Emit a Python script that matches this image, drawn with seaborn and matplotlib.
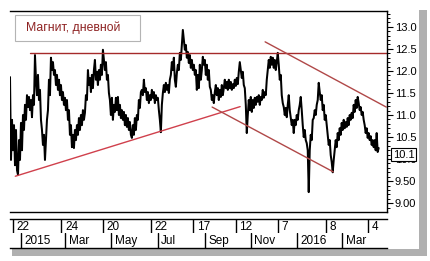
import numpy as np
import pandas as pd
import matplotlib
matplotlib.use("Agg")
import matplotlib.pyplot as plt
from matplotlib.patches import Rectangle
from matplotlib.ticker import FixedLocator, MultipleLocator, NullLocator
import seaborn as sns

# ---------------- data ----------------
title = "Магнит, дневной"
start_date, end_date = "2014-12-18", "2016-04-18"
price = [
    11.86, 9.98, 10.89, 10.20, 10.77, 9.86, 10.66, 9.75, 9.64, 10.43,
    9.98, 10.82, 10.20, 11.00, 10.66, 11.23, 10.89, 11.45, 11.18, 11.41,
    11.11, 11.34, 10.95, 11.45, 11.23, 12.36, 11.80, 11.45, 11.91, 11.34,
    11.57, 10.89, 10.66, 10.32, 10.55, 9.98, 10.43, 10.89, 11.11, 11.80,
    11.45, 12.30, 12.02, 12.20, 11.91, 12.02, 11.68, 11.91, 11.57, 11.80,
    11.45, 11.68, 11.34, 11.52, 11.23, 11.39, 11.11, 11.34, 10.89, 11.11,
    10.55, 10.77, 10.27, 10.55, 10.25, 10.66, 10.43, 10.77, 10.55, 10.93,
    10.66, 11.00, 10.77, 11.11, 10.89, 11.05, 11.45, 11.34, 12.02, 11.68,
    11.84, 11.52, 11.91, 11.61, 12.02, 12.25, 11.80, 11.98, 11.68, 12.02,
    11.80, 12.14, 11.91, 12.48, 12.25, 12.02, 12.20, 11.80, 11.91, 11.50,
    11.34, 11.00, 11.39, 10.89, 11.23, 11.07, 11.39, 11.11, 11.41, 11.00,
    11.23, 10.93, 11.11, 10.89, 11.07, 10.77, 11.00, 10.73, 10.93, 10.66,
    10.84, 10.55, 10.48, 10.77, 10.55, 10.93, 10.66, 11.00, 10.89, 11.34,
    11.16, 11.52, 11.57, 11.45, 11.80, 11.52, 11.61, 11.34, 11.52, 11.27,
    11.45, 11.34, 11.57, 11.39, 11.52, 11.27, 11.45, 11.34, 11.39, 11.11,
    10.89, 10.61, 11.23, 11.50, 11.68, 11.52, 11.73, 11.57, 11.68, 11.50,
    11.80, 11.91, 12.20, 12.02, 12.30, 11.80, 11.64, 11.95, 12.14, 12.02,
    12.41, 12.25, 12.59, 12.93, 12.70, 12.48, 12.59, 12.30, 12.43, 12.18,
    12.36, 12.07, 12.25, 12.02, 12.14, 11.91, 12.02, 11.57, 11.91, 11.61,
    12.14, 11.80, 12.02, 12.32, 12.14, 12.25, 11.91, 12.14, 11.80, 12.02,
    11.64, 11.57, 11.34, 11.45, 11.27, 11.52, 11.68, 11.45, 11.61, 11.34,
    11.57, 11.41, 11.68, 11.45, 11.61, 11.80, 11.61, 11.75, 11.57, 11.80,
    11.61, 11.75, 11.57, 11.70, 11.61, 11.80, 11.66, 11.84, 11.70, 11.98,
    12.20, 12.02, 11.84, 11.98, 11.68, 11.61, 11.23, 10.59, 11.00, 11.34,
    11.11, 11.41, 11.07, 11.34, 11.16, 11.39, 11.23, 11.41, 11.30, 11.45,
    11.23, 11.41, 11.34, 11.57, 11.39, 11.52, 11.45, 11.80, 12.02, 12.25,
    12.07, 12.32, 12.14, 12.30, 12.07, 12.25, 12.02, 12.20, 12.41, 12.14,
    11.80, 11.91, 11.45, 11.27, 11.18, 11.00, 11.16, 10.95, 11.23, 11.45,
    11.11, 10.93, 10.77, 10.89, 10.59, 10.89, 10.77, 11.00, 10.89, 11.11,
    11.23, 11.41, 11.11, 10.77, 10.50, 10.66, 10.43, 10.36, 10.20, 9.25,
    10.20, 10.55, 10.43, 10.89, 10.93, 11.11, 11.00, 11.23, 11.34, 11.73,
    11.52, 11.34, 11.45, 11.11, 11.23, 10.89, 11.00, 10.77, 10.55, 10.32,
    10.43, 10.09, 9.93, 9.70, 9.98, 10.20, 10.43, 10.27, 10.59, 10.43,
    10.70, 10.55, 10.82, 10.66, 10.89, 10.70, 10.84, 10.73, 10.93, 10.77,
    11.00, 10.89, 11.05, 10.93, 11.23, 11.07, 11.34, 11.16, 11.41, 11.27,
    11.11, 11.18, 11.00, 11.07, 10.89, 10.77, 10.59, 10.70, 10.48, 10.59,
    10.43, 10.52, 10.32, 10.43, 10.27, 10.43, 10.20, 10.59, 10.16, 10.25,
]

# trend lines (start / end dates and values)
hline_dates = ["2015-01-13", "2016-04-29"]
hline_vals = [12.41, 12.41]
support_dates = ["2014-12-25", "2015-10-18"]
support_vals = [9.61, 11.19]
chan_low_dates = ["2015-09-11", "2016-02-18"]
chan_low_vals = [11.18, 9.71]
chan_up_dates = ["2015-11-20", "2016-04-28"]
chan_up_vals = [12.66, 11.18]

row1_dates = ["2014-12-22", "2015-02-24", "2015-04-20", "2015-06-22", "2015-08-17",
              "2015-10-12", "2015-12-07", "2016-02-08", "2016-04-04"]
row1_labels = ["22", "24", "20", "22", "17", "12", "7", "8", "4"]
row2_dates = ["2015-01-01", "2015-03-01", "2015-05-01", "2015-07-01", "2015-09-01",
              "2015-11-01", "2016-01-01", "2016-03-01"]
row2_labels = ["2015", "Mar", "May", "Jul", "Sep", "Nov", "2016", "Mar"]

ytick_vals = [9.0, 9.5, 10.0, 10.5, 11.0, 11.5, 12.0, 12.5, 13.0]
ytick_labels = ["9.00", "9.50", "10.0", "10.5", "11.0", "11.5", "12.0", "12.5", "13.0"]
last_label, last_val = "10.1", 10.1

x_start, x_end = "2014-12-18", "2016-04-29"
y_min, y_max = 8.81, 13.36

# ---------------- figure ----------------
sns.set_theme(style="white")
plt.rcParams["font.family"] = ["Liberation Sans", "DejaVu Sans"]

W, H = 431, 261
fig = plt.figure(figsize=(W / 100, H / 100), dpi=100)
fig.patch.set_facecolor("white")


def fx(px):
    return px / W


def fy(py):
    return (H - py) / H


# drop shadow + white panel
fig.add_artist(Rectangle((fx(12), fy(256)), fx(427) - fx(12), fy(10) - fy(256),
                         transform=fig.transFigure, facecolor="#b0b0b0",
                         edgecolor="none", zorder=-20))
fig.add_artist(Rectangle((fx(0), fy(249)), fx(419), fy(0) - fy(249),
                         transform=fig.transFigure, facecolor="white",
                         edgecolor="none", zorder=-19))

ax = fig.add_axes([fx(10), fy(211.5), fx(387) - fx(10), fy(11) - fy(211.5)])
ax.set_facecolor("none")

df = pd.DataFrame({"date": pd.date_range(start_date, end_date, periods=len(price)),
                   "price": price})
sns.lineplot(data=df, x="date", y="price", ax=ax, color="black", lw=1.45,
             estimator=None, sort=False)

for dts, vals, col in [(hline_dates, hline_vals, "#a52a2a"),
                       (support_dates, support_vals, "#d0404c"),
                       (chan_low_dates, chan_low_vals, "#b04848"),
                       (chan_up_dates, chan_up_vals, "#b04848")]:
    sns.lineplot(x=pd.to_datetime(dts), y=vals, ax=ax, color=col, lw=1.0,
                 estimator=None)

ax.set_xlim(pd.Timestamp(x_start), pd.Timestamp(x_end))
ax.set_ylim(y_min, y_max)
ax.set_xlabel("")
ax.set_ylabel("")
ax.yaxis.tick_right()
ax.yaxis.set_major_locator(FixedLocator(ytick_vals))
ax.set_yticklabels(ytick_labels)
ax.yaxis.set_minor_locator(MultipleLocator(0.1))
ax.tick_params(axis="y", which="major", direction="out", length=4, width=0.8,
               color="black", pad=1.5, labelsize=8, labelcolor="black", right=True, left=False)
ax.tick_params(axis="y", which="minor", direction="out", length=2.2, width=0.7,
               color="black", right=True, left=False)
for s in ["top", "right", "bottom"]:
    ax.spines[s].set_visible(True)
    ax.spines[s].set_color("black")
    ax.spines[s].set_linewidth(1.0)
ax.spines["left"].set_visible(False)

# last price box (covers the 10.0 label as in the original)
ax.annotate(last_label, xy=(1, last_val), xycoords=("axes fraction", "data"),
            xytext=(4.2, 0), textcoords="offset points", ha="left", va="center",
            fontsize=8, color="black", zorder=10, annotation_clip=False,
            bbox=dict(boxstyle="square,pad=0.12", fc="white", ec="black", lw=0.8))

# title box
fig.add_artist(Rectangle((fx(15), fy(41)), fx(140) - fx(15), fy(15) - fy(41),
                         transform=fig.transFigure, facecolor="white",
                         edgecolor="#b4b4b4", lw=0.8, zorder=5))
fig.text(fx(26), fy(28), title, ha="left", va="center", fontsize=8.8,
         color="#8e2323", zorder=6)

# date rows
r1 = fig.add_axes([fx(10), fy(233), fx(387) - fx(10), fy(219) - fy(233)], sharex=ax)
r2 = fig.add_axes([fx(10), fy(248), fx(387) - fx(10), fy(233) - fy(248)], sharex=ax)
for r, dts, labs in [(r1, row1_dates, row1_labels), (r2, row2_dates, row2_labels)]:
    r.set_facecolor("none")
    r.set_ylim(0, 1)
    for s in r.spines.values():
        s.set_visible(False)
    for d, lab in zip(pd.to_datetime(dts), labs):
        r.axvline(d, ymin=0, ymax=1, color="black", lw=1.0)
        r.annotate(lab, xy=(d, 0.45), xycoords=("data", "axes fraction"),
                   xytext=(2.6, 0), textcoords="offset points", ha="left",
                   va="center", fontsize=8.5, color="black")
r1.spines["top"].set_visible(True)
r1.spines["top"].set_color("black")
r1.spines["top"].set_linewidth(1.0)
r2.spines["bottom"].set_visible(True)
r2.spines["bottom"].set_color("black")
r2.spines["bottom"].set_linewidth(1.0)
ax.set_xlim(pd.Timestamp(x_start), pd.Timestamp(x_end))

for a in (ax, r1, r2):
    a.xaxis.set_major_locator(NullLocator())
    a.xaxis.set_minor_locator(NullLocator())
    a.tick_params(axis="x", which="both", bottom=False, top=False,
                  labelbottom=False, labeltop=False)
for a in (r1, r2):
    a.yaxis.set_major_locator(NullLocator())
    a.yaxis.set_minor_locator(NullLocator())
    a.set_xlabel("")
    a.set_ylabel("")

fig.savefig("out.png", dpi=100, facecolor="white")
